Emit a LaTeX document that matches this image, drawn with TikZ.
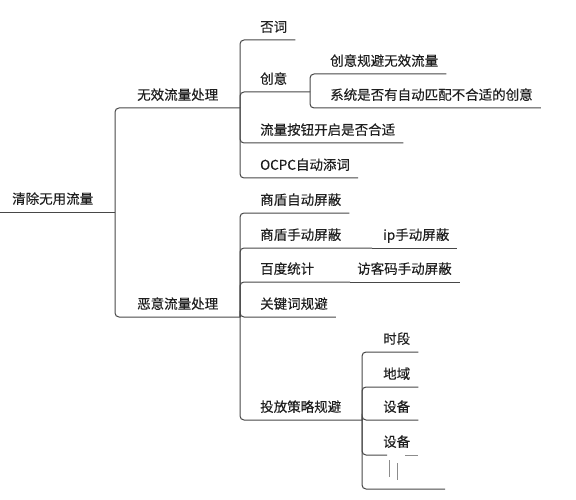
\documentclass[tikz,border=0pt]{standalone}
\usepackage{fontspec}
\setmainfont{Noto Sans CJK SC}[UprightFeatures={FakeBold=0.3}]

\tikzset{
  topic/.style={anchor=south west, inner xsep=8pt, inner ysep=0pt, text depth=8pt,
    font=\fontsize{13.5}{16}\selectfont, text=black!88},
  link/.style={draw=black!72, line width=1pt, rounded corners=4pt},
  faint/.style={draw=black!45, line width=0.8pt},
}

\begin{document}
\begin{tikzpicture}[x=1pt,y=-1pt]
 \useasboundingbox (0,0) rectangle (576,500);

 % bracket columns
 \def\xroot{115}
 \def\xmain{240}
 \def\xsub{310}
 \def\xtf{362}

 % root
 \node[topic, inner xsep=12pt] (qingchu) at (0,212) {清除无用流量};
 \coordinate (qingchu-j) at (\xroot,212);

 % level 1
 \node[topic] (wuxiao) at (129,108) {无效流量处理};
 \coordinate (wuxiao-j) at (\xmain,108);
 \node[topic] (eyi) at (129,317) {恶意流量处理};
 \coordinate (eyi-j) at (\xmain,317);

 % invalid traffic
 \node[topic] (fouci) at (252,40) {否词};
 \node[topic] (chuangyi) at (252,92) {创意};
 \coordinate (chuangyi-j) at (\xsub,92);
 \node[topic] (anniu) at (252,143) {流量按钮开启是否合适};
 \node[topic] (ocpc) at (252,178) {OCPC自动添词};
 \node[topic] (guibi) at (322,74) {创意规避无效流量};
 \node[topic] (xitong) at (322,108) {系统是否有自动匹配不合适的创意};

 % malicious traffic
 \node[topic] (sdauto) at (252,213) {商盾自动屏蔽};
 \node[topic] (sdhand) at (252,248) {商盾手动屏蔽};
 \coordinate (sdhand-j) at (372,248);
 \node[topic] (ipblock) at (375,248) {ip手动屏蔽};
 \node[topic] (baidu) at (252,282) {百度统计};
 \coordinate (baidu-j) at (350,282);
 \node[topic] (fangke) at (349,282) {访客码手动屏蔽};
 \node[topic] (guanjian) at (252,317) {关键词规避};
 \node[topic] (toufang) at (252,420) {投放策略规避};
 \coordinate (toufang-j) at (\xtf,420);

 % placement strategy
 \node[topic] (shiduan) at (375,352) {时段};
 \node[topic] (diyu) at (375,387) {地域};
 \node[topic] (shebei) at (375,420) {设备};
 \node[topic] (shebeib) at (375,455) {设备};
 \coordinate (gap-a) at (387,455);
 \coordinate (gap-b) at (405,455);
 \coordinate (kong) at (445,489);

 % connectors
 \foreach \c in {wuxiao-j,eyi-j} {
   \draw[link] (qingchu-j) |- (\c);
 }
 \draw[link] (qingchu.south west) -- (qingchu-j);
 \foreach \c in {fouci.south east,chuangyi-j,anniu.south east,ocpc.south east} {
   \draw[link] (wuxiao-j) |- (\c);
 }
 \foreach \c in {guibi,xitong} {
   \draw[link] (chuangyi-j) |- (\c.south east);
 }
 \foreach \c in {sdauto.south east,sdhand-j,baidu-j,guanjian.south east,toufang-j} {
   \draw[link] (eyi-j) |- (\c);
 }
 \draw[link] (sdhand-j) -- (ipblock.south east);
 \draw[link] (baidu-j) -- (fangke.south east);
 \foreach \c in {shiduan.south east,diyu.south east,shebei.south east,gap-a,kong} {
   \draw[link] (toufang-j) |- (\c);
 }
 \draw[faint] (gap-b) -- (shebeib.south east);

 % stray marks below
 \draw[faint] (389,460) -- (389,477);
 \draw[faint] (397,463) -- (397,480);
\end{tikzpicture}
\end{document}
